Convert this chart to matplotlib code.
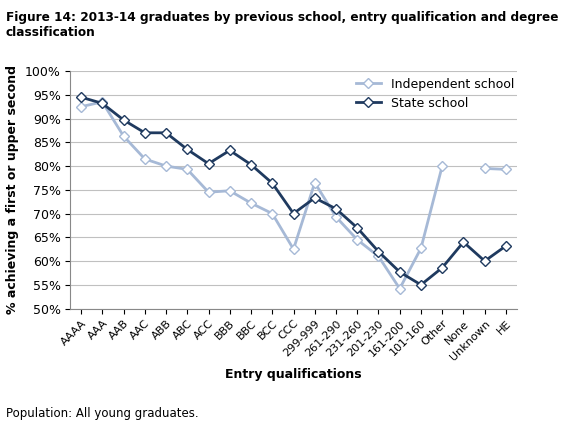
import matplotlib.pyplot as plt
import numpy as np

cats = ["AAAA", "AAA", "AAB", "AAC", "ABB", "ABC", "ACC", "BBB", "BBC", "BCC", "CCC",
        "299-999", "261-290", "231-260", "201-230", "161-200", "101-160", "Other",
        "None", "Unknown", "HE"]
independent = [92.5, 93.5, 86.3, 81.5, 80.0, 79.3, 74.5, 74.8, 72.2, 70.0, 62.5,
               76.5, 69.3, 64.5, 61.0, 54.2, 62.7, 80.0, np.nan, 79.5, 79.3]
state = [94.5, 93.2, 89.7, 87.0, 87.0, 83.5, 80.5, 83.3, 80.3, 76.4, 70.0,
         73.3, 71.0, 67.0, 62.0, 57.7, 55.0, 58.6, 64.0, 60.0, 63.2]

fig = plt.figure(figsize=(5.87, 4.44), dpi=100)
ax = fig.add_axes([0.12, 0.305, 0.76, 0.535])
x = np.arange(len(cats))
ax.plot(x, independent, color="#a6b9d6", marker="D", markersize=5, lw=2,
        markerfacecolor="white", markeredgecolor="#a6b9d6", label="Independent school")
ax.plot(x, state, color="#1f3a5f", marker="D", markersize=5, lw=2,
        markerfacecolor="white", markeredgecolor="#1f3a5f", label="State school")

ax.set_ylim(50, 100)
ax.set_yticks(range(50, 101, 5))
ax.set_yticklabels([f"{v}%" for v in range(50, 101, 5)], fontsize=9)
ax.set_xlim(-0.5, len(cats) - 0.5)
ax.set_xticks(x)
ax.set_xticklabels(cats, rotation=45, ha="right", rotation_mode="anchor", fontsize=8)
ax.grid(axis="y", color="#c0c0c0", lw=0.8)
ax.set_axisbelow(True)
for s in ["top", "right"]:
    ax.spines[s].set_visible(False)
ax.spines["left"].set_color("#888888")
ax.spines["bottom"].set_color("#888888")
ax.set_ylabel("% achieving a first or upper second", fontsize=9, fontweight="bold")
ax.set_xlabel("Entry qualifications", fontsize=9, fontweight="bold")
ax.legend(loc="upper right", bbox_to_anchor=(1.02, 1.02), frameon=False, fontsize=9)

fig.text(0.01, 0.975, "Figure 14: 2013-14 graduates by previous school, entry qualification and degree\nclassification",
         fontsize=8.7, fontweight="bold", va="top")
fig.text(0.01, 0.06, "Population: All young graduates.", fontsize=8.5)
fig.savefig("out.png")
